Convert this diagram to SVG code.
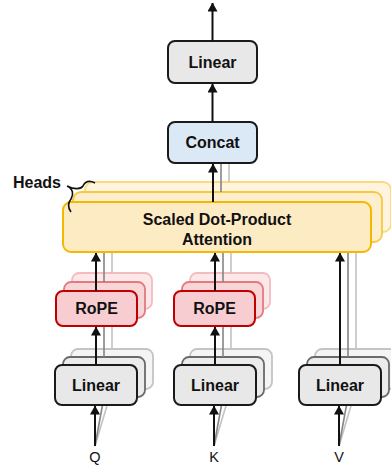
<svg xmlns="http://www.w3.org/2000/svg" width="391" height="465" viewBox="0 0 391 465">
<style>
text{font-family:"Liberation Sans",Arial,sans-serif;fill:#111;text-anchor:middle}
.b{font-weight:bold;font-size:16px}
.r{font-weight:bold;font-size:16px}
.io{font-size:14.5px}
.lin{fill:#e8e8e8;stroke:#1a1a1a;stroke-width:2}
.lin2{fill:#ececec;stroke:#6a6a6a;stroke-width:1.8}
.lin3{fill:#f5f5f5;stroke:#c4c4c4;stroke-width:1.8}
.cat{fill:#dbe8f6;stroke:#1a1a1a;stroke-width:2}
.rope{fill:#f8cdd1;stroke:#c00000;stroke-width:2}
.rope2{fill:#f8d6d8;stroke:#e27a80;stroke-width:1.8}
.rope3{fill:#fce8e9;stroke:#f3bcbf;stroke-width:1.8}
.att{fill:#fdebc3;stroke:#f5b800;stroke-width:2}
.att2{fill:#fdeecd;stroke:#f8c93e;stroke-width:1.8}
.att3{fill:#fef4df;stroke:#fbda7c;stroke-width:1.8}
.g2{stroke:#858585;stroke-width:1.6;fill:none}
.g3{stroke:#c2c2c2;stroke-width:1.6;fill:none}
.k{stroke:#111;stroke-width:2;fill:none;marker-end:url(#ah)}
</style>
<defs>
<marker id="ah" markerUnits="userSpaceOnUse" markerWidth="9" markerHeight="10" viewBox="0 0 9 10" refX="8.5" refY="5" orient="auto">
<path d="M0,0 L9,5 L0,10 z" fill="#111"/>
</marker>
</defs>

<!-- depth 3 layers -->
<g id="layers-back3">
<rect class="att3" x="85" y="182" width="306" height="50" rx="8"/>
<rect class="rope3" x="72" y="273" width="80" height="36" rx="7"/>
<rect class="rope3" x="190" y="273" width="80" height="36" rx="7"/>
<rect class="lin3" x="71" y="349" width="82" height="40" rx="7"/>
<rect class="lin3" x="190" y="349" width="82" height="40" rx="7"/>
<rect class="lin3" x="315" y="349" width="82" height="40" rx="7"/>
</g>
<g id="connectors-back3">
<line class="g3" x1="229" y1="163" x2="229" y2="182"/>
<line class="g3" x1="112" y1="232" x2="112" y2="273"/>
<line class="g3" x1="231" y1="232" x2="231" y2="273"/>
<line class="g3" x1="356" y1="232" x2="356" y2="349"/>
<line class="g3" x1="112" y1="309" x2="112" y2="349"/>
<line class="g3" x1="231" y1="309" x2="231" y2="349"/>
<line class="g3" x1="95" y1="446" x2="112" y2="389"/>
<line class="g3" x1="214" y1="446" x2="231" y2="389"/>
<line class="g3" x1="339" y1="446" x2="356" y2="389"/>
</g>

<!-- depth 2 layers -->
<g id="layers-back2">
<rect class="att2" x="73" y="192" width="309" height="50" rx="8"/>
<rect class="rope2" x="64" y="282" width="81" height="36" rx="7"/>
<rect class="rope2" x="182" y="282" width="81" height="36" rx="7"/>
<rect class="lin2" x="63" y="357" width="82" height="40" rx="7"/>
<rect class="lin2" x="182" y="357" width="82" height="40" rx="7"/>
<rect class="lin2" x="307" y="357" width="82" height="40" rx="7"/>
</g>
<g id="connectors-back2">
<line class="g2" x1="221" y1="163" x2="221" y2="192"/>
<line class="g2" x1="104" y1="242" x2="104" y2="282"/>
<line class="g2" x1="223" y1="242" x2="223" y2="282"/>
<line class="g2" x1="348" y1="242" x2="348" y2="357"/>
<line class="g2" x1="104" y1="318" x2="104" y2="357"/>
<line class="g2" x1="223" y1="318" x2="223" y2="357"/>
<line class="g2" x1="95" y1="446" x2="104" y2="397"/>
<line class="g2" x1="214" y1="446" x2="223" y2="397"/>
<line class="g2" x1="339" y1="446" x2="348" y2="397"/>
</g>

<!-- main nodes -->
<g id="linear-out">
<rect class="lin" x="168" y="41" width="89" height="42" rx="7"/>
<text class="b" x="212.5" y="67.5">Linear</text>
</g>
<g id="concat">
<rect class="cat" x="168" y="122" width="89" height="41" rx="7"/>
<text class="b" x="212.5" y="148">Concat</text>
</g>
<g id="attention">
<rect class="att" x="63" y="202" width="308" height="50" rx="8"/>
<text class="b" x="217" y="224.5">Scaled Dot-Product</text>
<text class="b" x="217" y="244.5">Attention</text>
</g>
<g id="rope-q">
<rect class="rope" x="56" y="291" width="81" height="35" rx="7"/>
<text class="r" x="96.5" y="314">RoPE</text>
</g>
<g id="rope-k">
<rect class="rope" x="174" y="291" width="81" height="35" rx="7"/>
<text class="r" x="214.5" y="314">RoPE</text>
</g>
<g id="linear-q">
<rect class="lin" x="55" y="365" width="82" height="40" rx="7"/>
<text class="b" x="96" y="390.5">Linear</text>
</g>
<g id="linear-k">
<rect class="lin" x="174" y="365" width="82" height="40" rx="7"/>
<text class="b" x="215" y="390.5">Linear</text>
</g>
<g id="linear-v">
<rect class="lin" x="299" y="365" width="82" height="40" rx="7"/>
<text class="b" x="340" y="390.5">Linear</text>
</g>
<g id="heads">
<text class="b" x="37" y="188">Heads</text>
<path d="M95,183 C89,180 85,182 83,186 C81,189 75,190 67,186 C73,189 74,194 71,199 C67,204 68,208 71,212" fill="none" stroke="#111" stroke-width="1.6"/>
</g>
<g id="inputs">
<text class="io" x="95" y="462">Q</text>
<text class="io" x="214" y="462">K</text>
<text class="io" x="339" y="462">V</text>
</g>

<!-- main connectors -->
<g id="connectors">
<line class="k" x1="212.5" y1="41" x2="212.5" y2="3"/>
<line class="k" x1="212.5" y1="122" x2="212.5" y2="84"/>
<line class="k" x1="213" y1="202" x2="213" y2="164"/>
<line class="k" x1="96" y1="291" x2="96" y2="253"/>
<line class="k" x1="215" y1="291" x2="215" y2="253"/>
<line class="k" x1="340" y1="365" x2="340" y2="253"/>
<line class="k" x1="96" y1="365" x2="96" y2="327"/>
<line class="k" x1="215" y1="365" x2="215" y2="327"/>
<line class="k" x1="95" y1="446" x2="95" y2="406"/>
<line class="k" x1="214" y1="446" x2="214" y2="406"/>
<line class="k" x1="339" y1="446" x2="339" y2="406"/>
</g>
</svg>
